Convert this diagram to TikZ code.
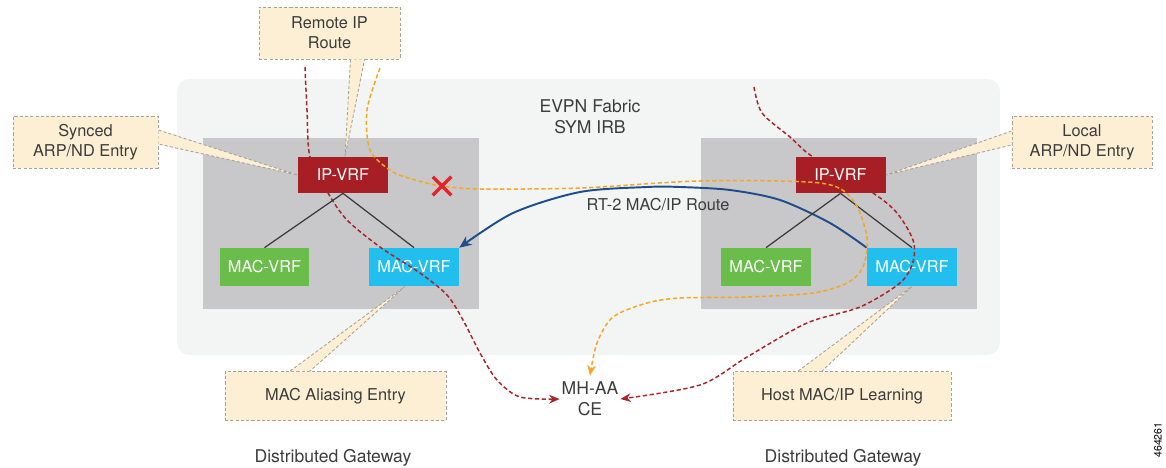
\documentclass[tikz,border=0pt]{standalone}
\usepackage{fontspec}
\setmainfont{TeX Gyre Heros}
\usetikzlibrary{positioning,arrows.meta,shapes.misc}

\definecolor{fabricgray}{HTML}{F3F5F4}
\definecolor{gwgray}{HTML}{C8C8CA}
\definecolor{ipred}{HTML}{A71F24}
\definecolor{macgreen}{HTML}{6ABD4B}
\definecolor{macblue}{HTML}{21BEEE}
\definecolor{callfill}{HTML}{FDEFD4}
\definecolor{callgray}{HTML}{A8A29A}
\definecolor{txtgray}{HTML}{3C3C3C}
\definecolor{flowred}{HTML}{A8252B}
\definecolor{floworange}{HTML}{F6A623}
\definecolor{flowblue}{HTML}{1E4D8B}
\definecolor{xred}{HTML}{E3242B}
\definecolor{linegray}{HTML}{3A3A3A}

\begin{document}
\begin{tikzpicture}[x=0.02cm,y=-0.02cm,
	every node/.style={text=txtgray,align=center,font=\fontsize{9.3}{11.3}\selectfont},
	bigtext/.style={font=\fontsize{10}{12}\selectfont},
	gateway/.style={fill=gwgray,minimum width=5.52cm,minimum height=3.42cm},
	ipvrf/.style={fill=ipred,text=white,minimum width=1.8cm,minimum height=0.72cm},
	macvrf/.style={text=white,minimum width=1.8cm,minimum height=0.76cm},
	callout/.style={draw=callgray,fill=callfill,dash pattern=on 1.8pt off 1.2pt,line width=0.5pt,minimum height=1.04cm},
	pointer/.style={draw=callgray,fill=callfill,dash pattern=on 1.8pt off 1.2pt,line width=0.5pt},
	flow/.style={dash pattern=on 2.4pt off 1.5pt,line width=0.85pt,-{Stealth[length=6pt,width=5pt]}},
	tree/.style={draw=linegray,line width=0.7pt}]
	\useasboundingbox (0,0) rectangle (1166,467);

	\node[fill=fabricgray,rounded corners=0.24cm,minimum width=16.46cm,minimum height=5.52cm](fabric) at (588.5,217){};
	\node[bigtext](fabrictext) at (590,117){EVPN Fabric\\SYM IRB};

	\node[gateway](gwL) at (341,223.5){};
	\node[gateway](gwR) at (839,223.5){};

	\node[macvrf,fill=macgreen](macgL) at (264.5,267){MAC-VRF};
	\node[macvrf,fill=macblue](macbL) at (414,267){MAC-VRF};
	\node[macvrf,fill=macgreen](macgR) at (766,267){MAC-VRF};
	\node[macvrf,fill=macblue](macbR) at (912,267){MAC-VRF};

	\node[bigtext,inner xsep=1pt](ce) at (590,399){MH-AA\\CE};
	\node(rt2) at (658,205){RT-2 MAC/IP Route};

	% traffic towards the CE, under the IP-VRF boxes
	\coordinate (redL) at (305,67);
	\coordinate (redR) at (754,87);
	\draw[flow,color=flowred] plot[smooth] coordinates {(redL) (307,110) (310,157) (328,193) (347,220) (380,247) (420,273) (447,295) (463,320) (480,353) (497,380) (520,397) (ce.west)};
	\draw[flow,color=flowred] plot[smooth] coordinates {(redR) (762,113) (790,137) (813,157) (873,193) (897,213) (913,240) (913,262) (900,283) (860,307) (807,323) (747,357) (700,385) (ce.east)};

	% RT-2 advertisement
	\draw[line width=1.1pt,color=flowblue,-{Stealth[length=7pt,width=6pt]}] plot[smooth] coordinates {(macbR.north west) (830,223) (780,200) (730,190) (680,187) (647,187) (580,192) (513,213) (macbL.north east)};

	\node[ipvrf](ipL) at (343,175){IP-VRF};
	\node[ipvrf](ipR) at (840.5,175){IP-VRF};

	\draw[tree] (ipL.south) -- (macgL.north);
	\draw[tree] (ipL.south) -- (macbL.north);
	\draw[tree] (ipR.south) -- (macgR.north);
	\draw[tree] (ipR.south) -- (macbR.north);

	% remote IP route, blocked locally
	\coordinate (orangeL) at (380,68);
	\draw[flow,color=floworange] plot[smooth] coordinates {(orangeL) (367,110) (370,150) (393,172) (423,182) (442,186) (480,189) (580,188) (700,181) (820,183) (853,200) (867,237) (863,267) (847,283) (813,293) (747,297) (680,298) (647,303) (613,317) (597,343) (ce.north)};
	\node[cross out,draw=xred,line width=2pt,minimum size=0.3cm,inner sep=0pt](block) at (442,186){};

	% callouts
	\node[callout,minimum width=2.82cm](remote) at (329.5,33){Remote IP\\Route};
	\node[callout,minimum width=2.9cm](synced) at (85.5,142){Synced\\ARP/ND Entry};
	\node[callout,minimum width=2.8cm](local) at (1082,142){Local\\ARP/ND Entry};
	\node[callout,minimum width=4.42cm,minimum height=0.98cm](alias) at (335.5,396){MAC Aliasing Entry};
	\node[callout,minimum width=4.36cm,minimum height=0.98cm](host) at (842,396){Host MAC/IP Learning};

	\draw[pointer] ([xshift=0.42cm]remote.south) -- ([xshift=0.04cm]ipL.north) -- ([xshift=0.7cm]remote.south);
	\draw[pointer] ([yshift=0.24cm]synced.east) -- (ipL.west) -- ([yshift=-0.04cm]synced.east);
	\draw[pointer] ([yshift=0.22cm]local.west) -- (ipR.east) -- ([yshift=-0.06cm]local.west);
	\draw[pointer] ([xshift=-0.91cm]alias.north) -- ([xshift=-0.18cm]macbL.south) -- ([xshift=-0.51cm]alias.north);
	\draw[pointer] ([xshift=-0.88cm]host.north) -- (macbR.south) -- ([xshift=-0.4cm]host.north);

	\node[bigtext](gwtextL) at (333,458){Distributed Gateway};
	\node[bigtext](gwtextR) at (843,458){Distributed Gateway};
	\node[rotate=90,font=\fontsize{6}{7}\selectfont,text=black](figid) at (1158,440){464261};
\end{tikzpicture}
\end{document}
